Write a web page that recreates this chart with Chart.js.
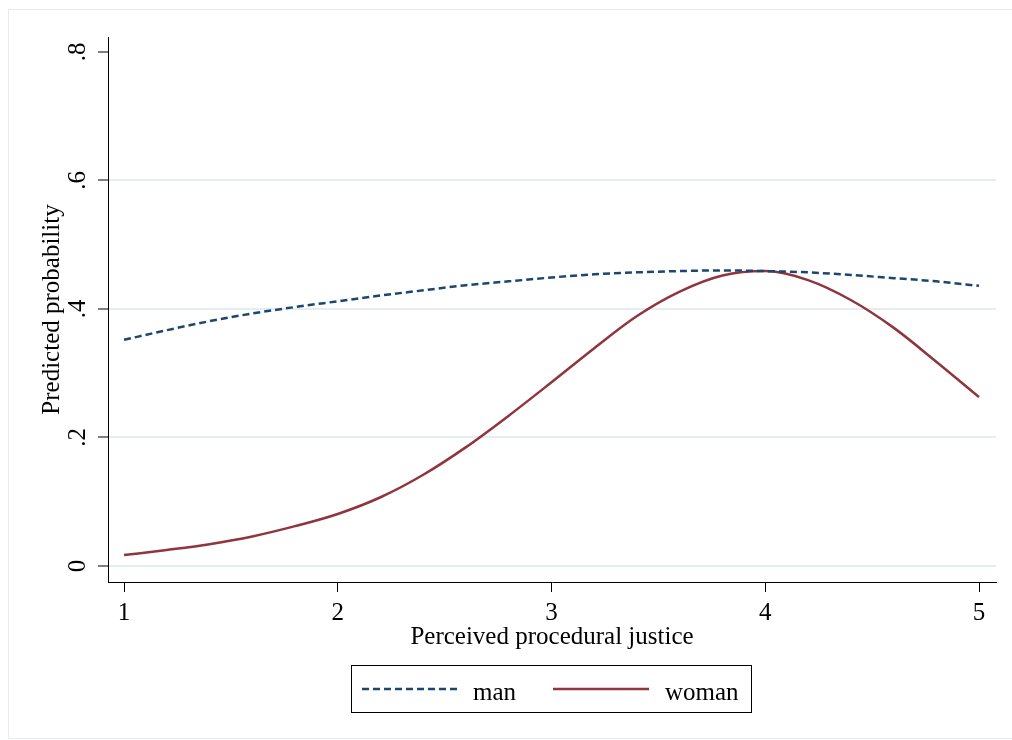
<!DOCTYPE html>
<html>
<head>
<meta charset="utf-8">
<script src="https://cdn.jsdelivr.net/npm/chart.js@4.4.1/dist/chart.umd.min.js"></script>
<style>
  html, body { margin: 0; padding: 0; background: #fff; }
</style>
</head>
<body>
<canvas id="c" width="1012" height="740"></canvas>
<script>
// predicted probabilities
const justice = [1.0, 1.2, 1.4, 1.6, 1.8, 2.0, 2.2, 2.4, 2.6, 2.8, 3.0, 3.2, 3.4, 3.6, 3.8, 4.0, 4.2, 4.4, 4.6, 4.8, 5.0];
const manProb = [0.352, 0.367, 0.381, 0.393, 0.403, 0.412, 0.421, 0.429, 0.437, 0.443, 0.449, 0.454, 0.457, 0.459, 0.460, 0.459, 0.457, 0.453, 0.448, 0.443, 0.436];
const womanProb = [0.017, 0.025, 0.034, 0.046, 0.062, 0.081, 0.107, 0.142, 0.185, 0.234, 0.286, 0.339, 0.389, 0.427, 0.452, 0.459, 0.445, 0.414, 0.371, 0.318, 0.263];
const xTicks = [1, 2, 3, 4, 5];
const yTicks = [0, 0.2, 0.4, 0.6, 0.8];
const yTickLabels = ['0', '.2', '.4', '.6', '.8'];

const FONT = '"Liberation Serif", "Times New Roman", serif';

const toPoints = ys => justice.map((x, i) => ({ x: x, y: ys[i] }));

// faint graph-region frame + Stata-like boxed legend
const frameAndLegend = {
  id: 'frameAndLegend',
  beforeDraw(chart) {
    const ctx = chart.ctx;
    ctx.save();
    ctx.strokeStyle = '#e6ecef';
    ctx.lineWidth = 1;
    ctx.strokeRect(8.5, 9.5, 1010, 729);
    ctx.restore();
  },
  afterDraw(chart) {
    const ctx = chart.ctx;
    ctx.save();
    ctx.strokeStyle = '#000';
    ctx.lineWidth = 1;
    ctx.strokeRect(351.5, 665.5, 400, 47);
    const slots = [{ x0: 362, x1: 457, tx: 473 }, { x0: 553, x1: 649, tx: 665 }];
    chart.data.datasets.forEach((ds, i) => {
      const s = slots[i];
      ctx.strokeStyle = ds.borderColor;
      ctx.lineWidth = ds.borderWidth;
      ctx.setLineDash(ds.borderDash || []);
      ctx.beginPath();
      ctx.moveTo(s.x0, 689);
      ctx.lineTo(s.x1, 689);
      ctx.stroke();
      ctx.setLineDash([]);
      ctx.fillStyle = '#000';
      ctx.font = '25px ' + FONT;
      ctx.textBaseline = 'alphabetic';
      ctx.fillText(ds.label, s.tx, 700);
    });
    ctx.restore();
  }
};

new Chart(document.getElementById('c'), {
  type: 'line',
  data: {
    datasets: [
      {
        label: 'man',
        data: toPoints(manProb),
        borderColor: '#1a476f',
        borderWidth: 2.5,
        borderDash: [7, 4],
        pointRadius: 0,
        cubicInterpolationMode: 'monotone',
        fill: false
      },
      {
        label: 'woman',
        data: toPoints(womanProb),
        borderColor: '#90353b',
        borderWidth: 2.5,
        pointRadius: 0,
        cubicInterpolationMode: 'monotone',
        fill: false
      }
    ]
  },
  options: {
    responsive: false,
    animation: false,
    devicePixelRatio: 1,
    layout: { padding: { top: 37, right: 16, left: 0, bottom: 0 } },
    plugins: { legend: { display: false }, tooltip: { enabled: false } },
    scales: {
      x: {
        type: 'linear',
        min: 0.925,
        max: 5.0795,
        afterBuildTicks: s => { s.ticks = xTicks.map(v => ({ value: v })); },
        afterFit: s => { s.height = 158; },
        grid: { drawOnChartArea: false, color: '#000', tickLength: 10, tickWidth: 1 },
        border: { color: '#000', width: 1 },
        ticks: {
          color: '#000',
          font: { family: FONT, size: 25 },
          padding: 6,
          maxRotation: 0,
          callback: v => String(v)
        },
        title: {
          display: true,
          text: 'Perceived procedural justice',
          color: '#000',
          font: { family: FONT, size: 25 },
          padding: { top: 0, bottom: 88 }
        }
      },
      y: {
        type: 'linear',
        min: -0.0249,
        max: 0.8233,
        afterBuildTicks: s => { s.ticks = yTicks.map(v => ({ value: v })); },
        afterFit: s => { s.width = 108; },
        grid: {
          color: c => (c.tick && c.tick.value > 0.7) ? 'rgba(0,0,0,0)' : '#e4eef1',
          lineWidth: 2,
          tickColor: '#000',
          tickWidth: 1,
          tickLength: 10
        },
        border: { color: '#000', width: 1 },
        ticks: {
          color: '#000',
          font: { family: FONT, size: 25 },
          minRotation: 90,
          maxRotation: 90,
          crossAlign: 'center',
          padding: 10,
          callback: (v, i) => yTickLabels[i]
        },
        title: {
          display: true,
          text: 'Predicted probability',
          color: '#000',
          font: { family: FONT, size: 25 },
          padding: { top: 37, bottom: 0 }
        }
      }
    }
  },
  plugins: [frameAndLegend]
});
</script>
</body>
</html>
